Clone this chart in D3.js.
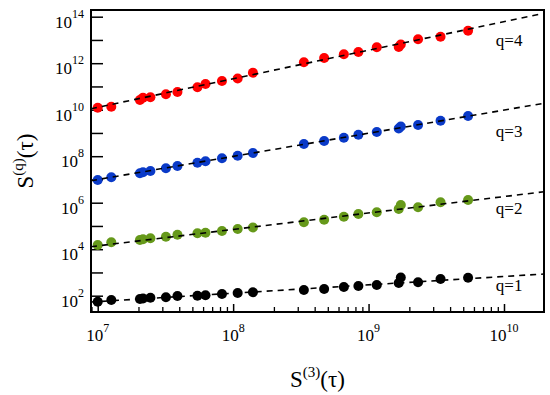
<!DOCTYPE html>
<html>
<head>
<meta charset="utf-8">
<script src="https://cdn.jsdelivr.net/npm/d3@7"></script>
<style>
  body { margin: 0; background: #fff; }
</style>
</head>
<body>
<div id="chart"></div>
<script>
// S(3)(tau) values shared by all series
var s3 = [1.00e7, 1.26e7, 2.05e7, 2.16e7, 2.45e7, 3.19e7, 3.88e7, 5.45e7, 6.25e7, 8.27e7,
          1.08e8, 1.40e8, 3.33e8, 4.70e8, 6.57e8, 8.41e8, 1.15e9, 1.67e9, 1.73e9, 2.32e9,
          3.40e9, 5.43e9];

// log10 of S(q) for each q
var logQ1 = [1.742, 1.815, 1.858, 1.879, 1.914, 1.931, 1.987, 2.000, 2.017, 2.073,
             2.116, 2.146, 2.245, 2.288, 2.374, 2.417, 2.460, 2.546, 2.783, 2.576,
             2.718, 2.774];
var logQ2 = [4.181, 4.297, 4.396, 4.426, 4.469, 4.538, 4.624, 4.684, 4.710, 4.783,
             4.869, 4.933, 5.157, 5.269, 5.398, 5.514, 5.587, 5.729, 5.901, 5.802,
             6.017, 6.114];
var logQ3 = [6.976, 7.092, 7.265, 7.308, 7.363, 7.479, 7.578, 7.720, 7.781, 7.910,
             8.022, 8.140, 8.525, 8.654, 8.796, 8.925, 9.041, 9.191, 9.277, 9.342,
             9.527, 9.729];
var logQ4 = [10.086, 10.129, 10.417, 10.516, 10.533, 10.662, 10.761, 10.963, 11.106, 11.234,
             11.342, 11.591, 12.039, 12.224, 12.383, 12.482, 12.684, 12.697, 12.804, 13.028,
             13.140, 13.398];

// power-law fits: S(q) = a * (S3/1e7)^slope
var qNames = ["q=1", "q=2", "q=3", "q=4"];
var fitSlope = [0.36, 0.707, 0.996, 1.227];
var fitAt1e7 = [55.8, 1.39e4, 9.9e6, 1.27e10];
var colors = ["#000000", "#66991a", "#0a3ac8", "#ff0000"];

var labelX = 8.7e9;
var labelY = [1.6e2, 3.25e5, 6.7e8, 5.5e12];

var xTicks = [1e7, 1e8, 1e9, 1e10];
var yTicks = [1e2, 1e4, 1e6, 1e8, 1e10, 1e12, 1e14];

var width = 550, height = 395;
var margin = {top: 10, right: 6, bottom: 83, left: 91};
var plotW = width - margin.left - margin.right,
    plotH = height - margin.top - margin.bottom;
var serif = '"Liberation Serif", "Times New Roman", "DejaVu Serif", serif';

var svg = d3.select('#chart')
    .append('svg')
    .attr('width', width)
    .attr('height', height)
    .style('font-family', serif);

var g = svg.append('g')
    .attr("transform", "translate(" + margin.left + "," + margin.top + ")");

var x = d3.scaleLog()
    .domain([Math.pow(10, 6.9505), Math.pow(10, 10.2954)])
    .range([0, plotW]);

var y = d3.scaleLog()
    .domain([Math.pow(10, 1.299), Math.pow(10, 14.288)])
    .range([plotH, 0]);

// minor + major ticks on x
var xMinor = [];
for (var e = 6; e <= 10; e++) {
    for (var m = 1; m <= 9; m++) {
        var v = m * Math.pow(10, e);
        if (v >= x.domain()[0] && v <= x.domain()[1]) xMinor.push(v);
    }
}

g.append('g')
    .attr('transform', 'translate(0,' + plotH + ')')
    .call(d3.axisBottom(x).tickValues(xMinor.filter(function(v){ return xTicks.indexOf(v) < 0; }))
        .tickSize(-5).tickFormat(''))
    .call(function(a){ a.select('.domain').remove(); a.selectAll('line').attr('stroke-width', 1.3); });

g.append('g')
    .attr('transform', 'translate(0,' + plotH + ')')
    .call(d3.axisBottom(x).tickValues(xTicks).tickSize(-8).tickFormat(''))
    .call(function(a){ a.select('.domain').remove(); a.selectAll('line').attr('stroke-width', 1.5); });

var yAll = [];
for (var k = 2; k <= 14; k++) yAll.push(Math.pow(10, k));

g.append('g')
    .call(d3.axisLeft(y).tickValues(yAll).tickSize(-12).tickFormat(''))
    .call(function(a){ a.select('.domain').remove(); a.selectAll('line').attr('stroke-width', 1.5); });

// frame
g.append('rect')
    .attr('width', plotW)
    .attr('height', plotH)
    .attr('fill', 'none')
    .attr('stroke', '#000')
    .attr('stroke-width', 2);

// tick labels with superscripts
var xl = g.selectAll('.xlab').data(xTicks).enter()
    .append('text')
    .attr('class', 'xlab')
    .attr('x', function(d){ return x(d); })
    .attr('y', plotH + 29)
    .attr('text-anchor', 'middle')
    .style('font-family', serif)
    .style('font-size', '17px');
xl.append('tspan').text('10');
xl.append('tspan').attr('dy', -9).style('font-size', '12px')
    .text(function(d){ return Math.round(Math.log10(d)); });

var yl = g.selectAll('.ylab').data(yTicks).enter()
    .append('text')
    .attr('class', 'ylab')
    .attr('x', -7)
    .attr('y', function(d){ return y(d) + 11; })
    .attr('text-anchor', 'end')
    .style('font-family', serif)
    .style('font-size', '17px');
yl.append('tspan').text('10');
yl.append('tspan').attr('dy', -10).style('font-size', '12px')
    .text(function(d){ return Math.round(Math.log10(d)); });

// data points
var series = [logQ1, logQ2, logQ3, logQ4];
series.forEach(function(vals, i) {
    g.selectAll('.pt' + i)
        .data(vals)
        .enter()
        .append('circle')
        .attr('cx', function(d, j){ return x(s3[j]); })
        .attr('cy', function(d){ return y(Math.pow(10, d)); })
        .attr('r', 5)
        .attr('fill', colors[i]);
});

// dashed fit lines
var line = d3.line()
    .x(function(d){ return x(d[0]); })
    .y(function(d){ return y(d[1]); });

g.append('defs').append('clipPath').attr('id', 'clip')
    .append('rect').attr('width', plotW).attr('height', plotH);

fitSlope.forEach(function(b, i) {
    var ends = x.domain().map(function(xv){
        return [xv, fitAt1e7[i] * Math.pow(xv / 1e7, b)];
    });
    g.append('path')
        .datum(ends)
        .attr('d', line)
        .attr('clip-path', 'url(#clip)')
        .attr('fill', 'none')
        .attr('stroke', '#000')
        .attr('stroke-width', 1.6)
        .attr('stroke-dasharray', '6,5');
});

// q labels
g.selectAll('.qlab').data(qNames).enter()
    .append('text')
    .attr('x', x(labelX))
    .attr('y', function(d, i){ return y(labelY[i]); })
    .style('font-family', serif)
    .style('font-size', '17px')
    .text(function(d){ return d; });

// axis titles
var xt = svg.append('text')
    .attr('x', margin.left + plotW / 2)
    .attr('y', 387)
    .attr('text-anchor', 'middle')
    .style('font-family', serif)
    .style('font-size', '23px');
xt.append('tspan').text('S');
xt.append('tspan').attr('dy', -10).style('font-size', '15px').text('(3)');
xt.append('tspan').attr('dy', 10).text('(τ)');

var yt = svg.append('text')
    .attr('transform', 'translate(33,' + (margin.top + plotH / 2) + ') rotate(-90)')
    .attr('text-anchor', 'middle')
    .style('font-family', serif)
    .style('font-size', '23px');
yt.append('tspan').text('S');
yt.append('tspan').attr('dy', -10).style('font-size', '15px').text('(q)');
yt.append('tspan').attr('dy', 10).text('(τ)');
</script>
</body>
</html>
